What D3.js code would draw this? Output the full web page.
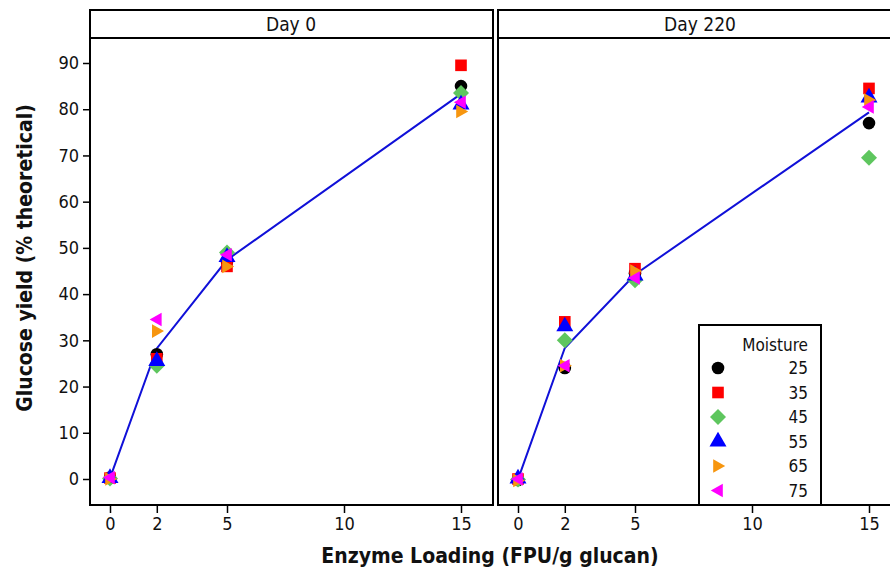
<!DOCTYPE html>
<html>
<head>
<meta charset="utf-8">
<script src="https://cdn.jsdelivr.net/npm/d3@7"></script>
<style>
  body { margin: 0; background: #fff; }
  text { font-family: "DejaVu Sans Condensed", "DejaVu Sans", sans-serif; fill: #111; }
</style>
</head>
<body>
<div id="chart"></div>
<script>
// enzyme loadings (FPU/g glucan)
const loadings = [0, 2, 5, 15];
const xTicks = [0, 2, 5, 10, 15];
const yTicks = [0, 10, 20, 30, 40, 50, 60, 70, 80, 90];
const moistures = ['25', '35', '45', '55', '65', '75'];
const days = ['Day 0', 'Day 220'];

// glucose yield, % theoretical, one array per moisture level at each loading
const day0 = {
  '25': [0.3, 27.0, 47.0, 85.0],
  '35': [0.2, 26.0, 46.0, 89.5],
  '45': [0.1, 24.5, 49.0, 83.5],
  '55': [0.2, 25.5, 48.0, 81.0],
  '65': [0.0, 32.0, 46.0, 79.5],
  '75': [0.3, 34.5, 48.5, 81.5]
};
const day220 = {
  '25': [-0.2, 24.0, 44.5, 77.0],
  '35': [0.0, 34.0, 45.5, 84.5],
  '45': [-0.1, 30.0, 43.0, 69.5],
  '55': [0.1, 33.0, 44.0, 82.5],
  '65': [-0.3, 24.5, 45.0, 82.0],
  '75': [0.0, 24.5, 43.5, 80.5]
};
const panelData = [day0, day220];

const colors = {
  '25': '#000000', '35': '#ff0000', '45': '#5ec65e',
  '55': '#0000ff', '65': '#f7960f', '75': '#ff00ff'
};
const shapes = {
  '25': 'circle', '35': 'square', '45': 'diamond',
  '55': 'up', '65': 'right', '75': 'left'
};

const width = 890, height = 571;
const panels = [{ x0: 90, x1: 493 }, { x0: 498, x1: 910 }];
const stripTop = 10, stripH = 28, plotBottom = 505;

const svg = d3.select('#chart').append('svg')
  .attr('width', width)
  .attr('height', height);

const y = d3.scaleLinear().domain([0, 90]).range([479, 63]);

function symbolPath(shape) {
  const s = {
    circle: d3.symbol(d3.symbolCircle, 125),
    square: d3.symbol(d3.symbolSquare, 135),
    up: d3.symbol(d3.symbolTriangle, 125)
  };
  if (s[shape]) return s[shape]();
  const r = 8;
  if (shape === 'diamond') return `M0,${-r}L${r},0L0,${r}L${-r},0Z`;
  if (shape === 'right') return `M${-r * 0.6},${-r * 0.85}L${r * 0.9},0L${-r * 0.6},${r * 0.85}Z`;
  return `M${r * 0.6},${-r * 0.85}L${-r * 0.9},0L${r * 0.6},${r * 0.85}Z`;
}

panels.forEach((p, i) => {
  const x = d3.scaleLinear().domain([0, 15]).range([p.x0 + 20, p.x0 + 371]);
  const g = svg.append('g');
  const data = panelData[i];

  // strip
  g.append('rect')
    .attr('x', p.x0).attr('y', stripTop)
    .attr('width', p.x1 - p.x0).attr('height', stripH)
    .attr('fill', '#fff').attr('stroke', '#000').attr('stroke-width', 2);
  g.append('text')
    .attr('x', i === 0 ? 291 : 700)
    .attr('y', stripTop + stripH / 2 + 7)
    .attr('text-anchor', 'middle')
    .attr('font-size', 19)
    .text(days[i]);

  // plot frame
  g.append('rect')
    .attr('x', p.x0).attr('y', stripTop + stripH)
    .attr('width', p.x1 - p.x0).attr('height', plotBottom - stripTop - stripH)
    .attr('fill', 'none').attr('stroke', '#000').attr('stroke-width', 2);

  // x axis
  const xAxis = g.append('g')
    .attr('transform', `translate(0,${plotBottom})`)
    .call(d3.axisBottom(x).tickValues(xTicks).tickSize(8).tickPadding(4));
  xAxis.select('.domain').remove();
  xAxis.selectAll('line').attr('stroke', '#000').attr('stroke-width', 1.5);
  xAxis.selectAll('text').attr('font-size', 18).attr('fill', '#111');

  if (i === 0) {
    const yAxis = g.append('g')
      .attr('transform', `translate(${p.x0},0)`)
      .call(d3.axisLeft(y).tickValues(yTicks).tickSize(7).tickPadding(4));
    yAxis.select('.domain').remove();
    yAxis.selectAll('line').attr('stroke', '#000').attr('stroke-width', 1.5);
    yAxis.selectAll('text').attr('font-size', 18).attr('fill', '#111');
  }

  // mean line across moistures
  const means = loadings.map((l, k) => d3.mean(moistures, m => data[m][k]));
  g.append('path')
    .datum(loadings.map((l, k) => [l, means[k]]))
    .attr('fill', 'none')
    .attr('stroke', '#1010d8')
    .attr('stroke-width', 2)
    .attr('d', d3.line().x(d => x(d[0])).y(d => y(d[1])));

  // points
  moistures.forEach(m => {
    g.append('g').selectAll('path')
      .data(loadings.map((l, k) => [l, data[m][k]]))
      .join('path')
      .attr('transform', d => `translate(${x(d[0])},${y(d[1])})`)
      .attr('d', symbolPath(shapes[m]))
      .attr('fill', colors[m]);
  });
});

// legend
const lg = svg.append('g');
lg.append('rect')
  .attr('x', 699).attr('y', 325).attr('width', 122).attr('height', 180)
  .attr('fill', '#fff').attr('stroke', '#000').attr('stroke-width', 2);
lg.append('text')
  .attr('x', 808).attr('y', 351)
  .attr('text-anchor', 'end').attr('font-size', 17)
  .text('Moisture');
moistures.forEach((m, k) => {
  const yy = 368 + k * 24.5;
  lg.append('path')
    .attr('transform', `translate(718,${yy})`)
    .attr('d', symbolPath(shapes[m]))
    .attr('fill', colors[m]);
  lg.append('text')
    .attr('x', 808).attr('y', yy + 6)
    .attr('text-anchor', 'end').attr('font-size', 17)
    .text(m);
});

// axis titles
svg.append('text')
  .attr('x', 490).attr('y', 563)
  .attr('text-anchor', 'middle')
  .attr('font-size', 21).attr('font-weight', 'bold')
  .text('Enzyme Loading (FPU/g glucan)');
svg.append('text')
  .attr('transform', 'translate(32,258) rotate(-90)')
  .attr('text-anchor', 'middle')
  .attr('font-size', 21).attr('font-weight', 'bold')
  .text('Glucose yield (% theoretical)');
</script>
</body>
</html>
